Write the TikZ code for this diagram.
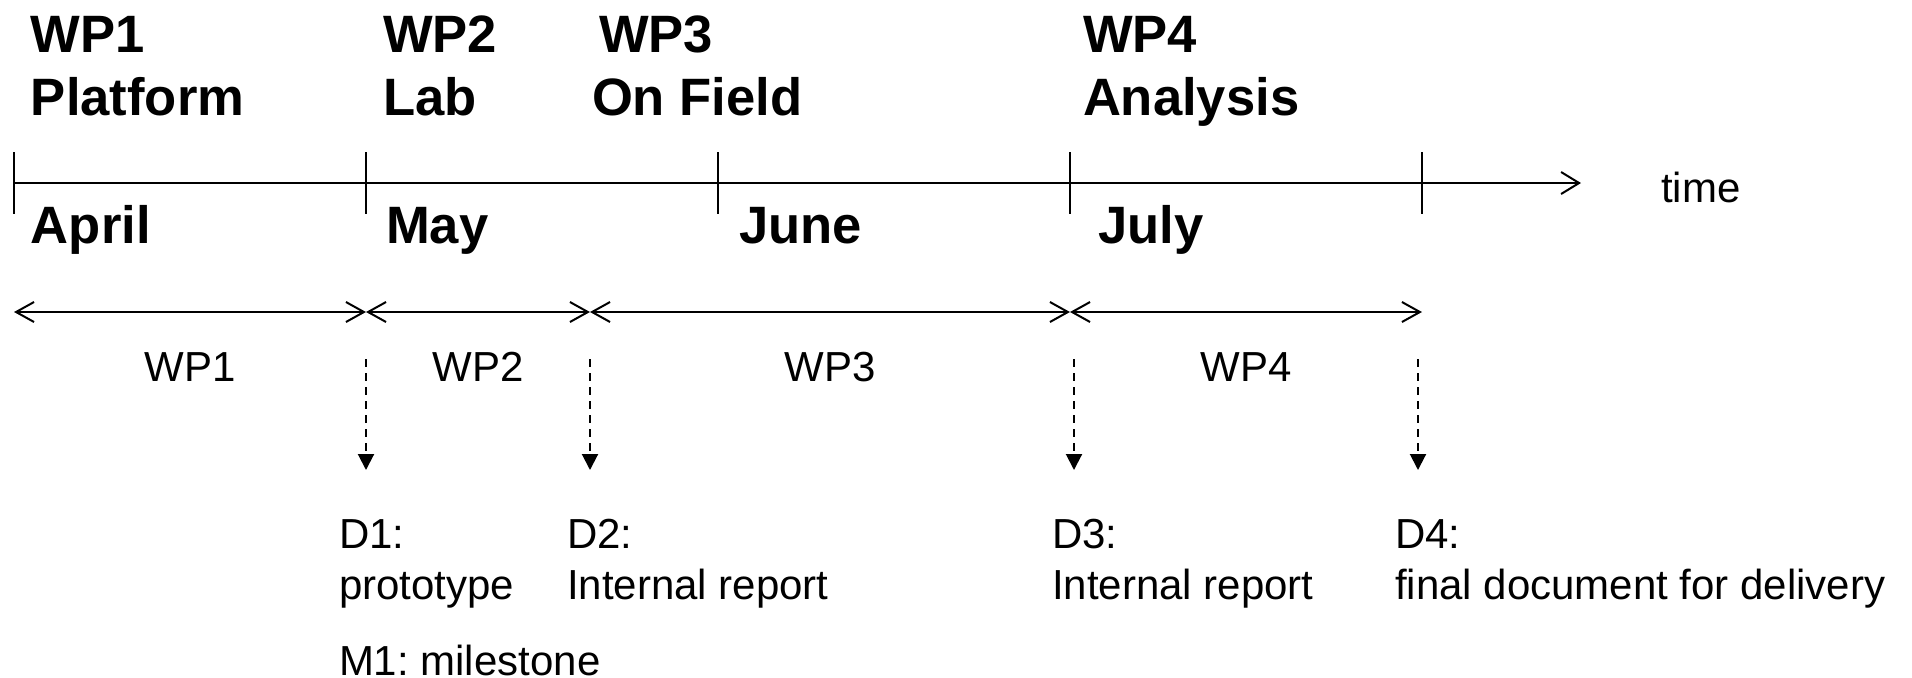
\documentclass[tikz,border=0pt]{standalone}
\usepackage{fontspec}
\setmainfont{Liberation Sans}
\usepackage{tikz}
\usetikzlibrary{arrows.meta}
\frenchspacing

\begin{document}
\begin{tikzpicture}[x=0.5pt, y=-0.5pt, line width=1pt,
    wp/.style={anchor=base west, inner sep=0pt, align=left, font=\fontsize{26.3pt}{31.5pt}\selectfont\bfseries},
    month/.style={anchor=base west, inner sep=0pt, font=\fontsize{26.3pt}{31.5pt}\selectfont\bfseries},
    lbl/.style={anchor=base, inner sep=0pt, font=\fontsize{21pt}{25.5pt}\selectfont},
    deliv/.style={anchor=base west, inner sep=0pt, align=left, font=\fontsize{21pt}{25.5pt}\selectfont},
    barbs/.style={{Straight Barb[length=9pt, width=10pt]}-{Straight Barb[length=9pt, width=10pt]}},
    due/.style={-{Triangle[length=8pt, width=8pt]}, dash pattern=on 4pt off 3pt}]
    \useasboundingbox (0, 0) rectangle (1912, 677);

    % work packages on top
    \node[wp] (wp1top) at (30, 115) {WP1\\Platform};
    \node[wp] (wp2top) at (382, 115) {WP2\\Lab};
    \node[wp] (wp3top) at (591, 115) {\hspace*{3.5pt}WP3\\On Field};
    \node[wp] (wp4top) at (1082, 115) {WP4\\Analysis};

    % time axis
    \coordinate (t0) at (14, 183);
    \coordinate (t1) at (366, 183);
    \coordinate (t2) at (718, 183);
    \coordinate (t3) at (1070, 183);
    \coordinate (t4) at (1422, 183);
    \coordinate (tend) at (1581, 183);
    \draw[-{Straight Barb[length=9pt, width=11pt]}] (t0) -- (tend);
    \draw (t0) ++(0, -31) -- ++(0, 62);
    \draw (t1) ++(0, -31) -- ++(0, 62);
    \draw (t2) ++(0, -31) -- ++(0, 62);
    \draw (t3) ++(0, -31) -- ++(0, 62);
    \draw (t4) ++(0, -31) -- ++(0, 62);
    \node[lbl, anchor=base west] (time) at (1660, 202) {time};

    \node[month] (april) at (30, 243) {April};
    \node[month] (may) at (385, 243) {May};
    \node[month] (june) at (738, 243) {June};
    \node[month] (july) at (1097, 243) {July};

    % durations
    \coordinate (s0) at (14, 312);
    \coordinate (s1) at (366, 312);
    \coordinate (s2) at (590, 312);
    \coordinate (s3) at (1070, 312);
    \coordinate (s4) at (1422, 312);
    \draw[barbs] (s0) -- (s1);
    \draw[barbs] (s1) -- (s2);
    \draw[barbs] (s2) -- (s3);
    \draw[barbs] (s3) -- (s4);
    \node[lbl] (wp1) at (190, 381) {WP1};
    \node[lbl] (wp2) at (478, 381) {WP2};
    \node[lbl] (wp3) at (830, 381) {WP3};
    \node[lbl] (wp4) at (1246, 381) {WP4};

    % deliverables
    \coordinate (d1a) at (366, 359);
    \coordinate (d1b) at (366, 470);
    \coordinate (d2a) at (590, 359);
    \coordinate (d2b) at (590, 470);
    \coordinate (d3a) at (1074, 359);
    \coordinate (d3b) at (1074, 470);
    \coordinate (d4a) at (1418, 359);
    \coordinate (d4b) at (1418, 470);
    \draw[due] (d1a) -- (d1b);
    \draw[due] (d2a) -- (d2b);
    \draw[due] (d3a) -- (d3b);
    \draw[due] (d4a) -- (d4b);
    \node[deliv] (d1) at (338, 599) {D1:\\prototype};
    \node[deliv] (d2) at (566, 599) {D2:\\Internal report};
    \node[deliv] (d3) at (1051, 599) {D3:\\Internal report};
    \node[deliv] (d4) at (1394, 599) {D4:\\final document for delivery};
    \node[deliv] (m1) at (338, 675) {M1: milestone};
\end{tikzpicture}
\end{document}
